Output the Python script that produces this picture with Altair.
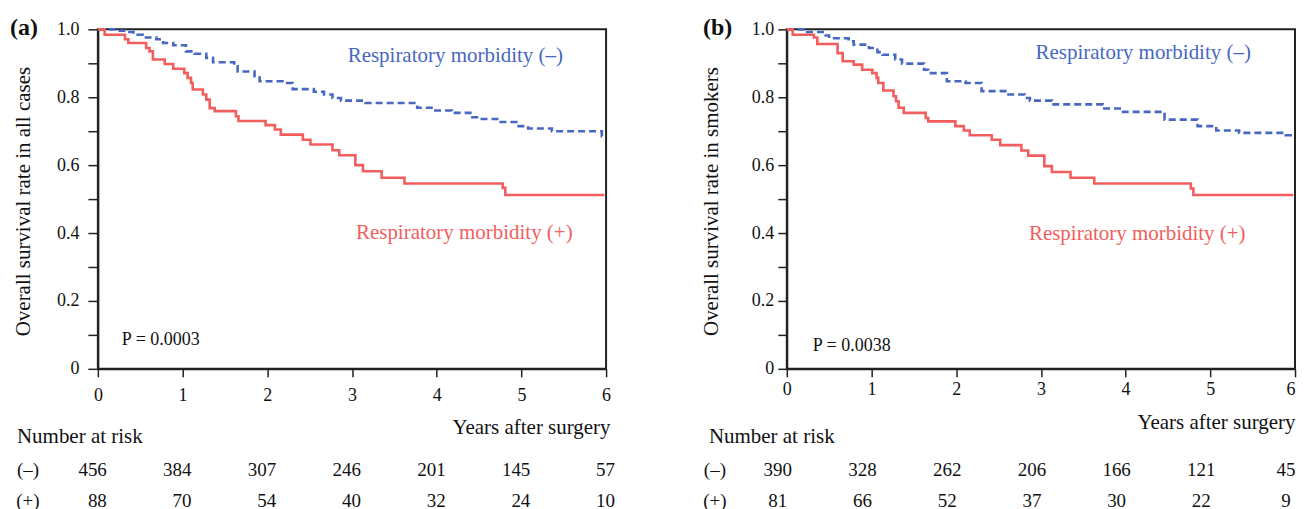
import altair as alt
import pandas as pd

# ---------------- data ----------------
years = [0, 1, 2, 3, 4, 5, 6]
y_ticks = [0.0, 0.1, 0.2, 0.3, 0.4, 0.5, 0.6, 0.7, 0.8, 0.9, 1.0]

# Panel (a): all cases
a_neg_t = [0, 0.24, 0.34, 0.42, 0.53, 0.69, 0.77, 0.89, 1.04, 1.14, 1.28, 1.36, 1.61, 1.65,
           1.85, 1.91, 2.18, 2.30, 2.55, 2.67, 2.77, 2.87, 3.16, 3.77, 3.96, 4.18, 4.42,
           4.51, 4.73, 4.94, 5.08, 5.36, 5.95, 5.98]
a_neg_s = [1.0, 0.996, 0.992, 0.984, 0.976, 0.971, 0.960, 0.953, 0.935, 0.928, 0.916, 0.903,
           0.891, 0.876, 0.862, 0.847, 0.842, 0.824, 0.816, 0.808, 0.798, 0.790, 0.783,
           0.769, 0.761, 0.754, 0.741, 0.736, 0.727, 0.715, 0.708, 0.700, 0.685, 0.685]
a_pos_t = [0, 0.08, 0.32, 0.36, 0.57, 0.61, 0.65, 0.79, 0.89, 1.02, 1.06, 1.10, 1.12, 1.24,
           1.28, 1.32, 1.38, 1.63, 1.66, 1.98, 2.09, 2.16, 2.42, 2.51, 2.77, 2.85, 3.04,
           3.13, 3.35, 3.62, 4.78, 4.81, 5.98]
a_pos_s = [1.0, 0.984, 0.971, 0.960, 0.945, 0.935, 0.911, 0.898, 0.884, 0.871, 0.857, 0.842,
           0.823, 0.808, 0.793, 0.768, 0.759, 0.744, 0.730, 0.718, 0.705, 0.690, 0.675,
           0.661, 0.644, 0.629, 0.600, 0.582, 0.563, 0.546, 0.533, 0.512, 0.512]
a_risk_neg = [456, 384, 307, 246, 201, 145, 57]
a_risk_pos = [88, 70, 54, 40, 32, 24, 10]

# Panel (b): smokers
b_neg_t = [0, 0.24, 0.46, 0.50, 0.73, 0.79, 0.97, 1.07, 1.13, 1.28, 1.36, 1.62, 1.67, 1.89,
           2.11, 2.30, 2.60, 2.81, 2.87, 3.13, 3.73, 3.97, 4.46, 4.85, 5.07, 5.34, 5.89, 5.98]
b_neg_s = [1.0, 0.992, 0.982, 0.974, 0.965, 0.955, 0.945, 0.933, 0.925, 0.911, 0.899, 0.881,
           0.871, 0.847, 0.842, 0.818, 0.808, 0.798, 0.790, 0.779, 0.767, 0.757, 0.734,
           0.715, 0.702, 0.695, 0.688, 0.688]
b_pos_t = [0, 0.07, 0.32, 0.36, 0.60, 0.66, 0.79, 0.89, 1.01, 1.06, 1.08, 1.14, 1.26, 1.29,
           1.32, 1.38, 1.64, 1.67, 1.99, 2.09, 2.16, 2.42, 2.52, 2.77, 2.85, 3.04, 3.13,
           3.35, 3.63, 4.77, 4.80, 5.98]
b_pos_s = [1.0, 0.984, 0.976, 0.957, 0.930, 0.906, 0.896, 0.881, 0.871, 0.857, 0.842, 0.820,
           0.803, 0.788, 0.769, 0.754, 0.739, 0.729, 0.715, 0.702, 0.688, 0.675, 0.659,
           0.643, 0.628, 0.597, 0.580, 0.563, 0.546, 0.531, 0.512, 0.512]
b_risk_neg = [390, 328, 262, 206, 166, 121, 45]
b_risk_pos = [81, 66, 52, 37, 30, 22, 9]

groups = ["neg", "pos"]
BLUE = "#4767c1"
RED = "#f25d5d"
DARK = "#222222"
FONT = "Liberation Serif"
W, H = 509, 340


def panel(label, ytitle, neg_t, neg_s, pos_t, pos_s, risk_neg, risk_pos, pval, c):
    curves = pd.concat([
        pd.DataFrame({"t": neg_t, "s": neg_s, "group": "neg"}),
        pd.DataFrame({"t": pos_t, "s": pos_s, "group": "pos"}),
    ])
    xsc = alt.Scale(domain=[0, 6], nice=False, zero=False)
    ysc = alt.Scale(domain=[0, 1], nice=False)
    xaxis = alt.Axis(values=years, format="d", tickSize=8, tickWidth=1.5, tickColor=DARK,
                     domainColor=DARK, domainWidth=2, labelPadding=c["xlp"],
                     labelAlign=c["xla"],
                     labelFont=FONT, labelFontSize=18, labelColor="#111", grid=False,
                     labelFlush=False, title="Years after surgery", titleFont=FONT,
                     titleFontSize=21, titleFontWeight="normal", titleColor="#111",
                     titleAlign="right", titleBaseline="middle", titleAnchor="end",
                     titleX=c["xtx"], titleY=c["xty"])
    yaxis = alt.Axis(values=y_ticks, tickSize=c["yts"], tickWidth=1.5, tickColor=DARK,
                     domainColor=DARK, domainWidth=2, labelPadding=c["ylp"],
                     labelExpr="datum.value == 0 ? '0' : (round(datum.value*10) % 2 == 0 ? format(datum.value, '.1f') : '')",
                     labelFont=FONT, labelFontSize=18, labelColor="#111", grid=False,
                     title=ytitle, titleFont=FONT, titleFontSize=21,
                     titleFontWeight="normal", titleColor="#111", titleAlign="center",
                     titleBaseline="middle", titleX=c["ytx"], titleY=H / 2 + 2, titleAngle=270)
    lines = alt.Chart(curves).mark_line(interpolate="step-after", strokeWidth=2.6).encode(
        x=alt.X("t:Q", scale=xsc, axis=xaxis),
        y=alt.Y("s:Q", scale=ysc, axis=yaxis),
        color=alt.Color("group:N", scale=alt.Scale(domain=groups, range=[BLUE, RED]), legend=None),
        strokeDash=alt.StrokeDash("group:N", scale=alt.Scale(domain=groups, range=[[7, 4], [1, 0]]),
                                  legend=None),
    )
    risk = pd.DataFrame({"t": years, "neg": risk_neg, "pos": risk_pos})
    rows = []
    for field, ypix in (("neg", 441), ("pos", 472)):
        rows.append(
            alt.Chart(risk).mark_text(font=FONT, fontSize=19, color="#111", baseline="middle",
                                      align=c["ralign"], dx=c["rdx"]).encode(
                x=alt.X("t:Q", scale=xsc, axis=xaxis),
                y=alt.value(ypix),
                text=alt.Text(f"{field}:Q"),
            )
        )

    def txt(s, x, y, size=21, color="#111", align="left", weight="normal"):
        return alt.Chart(pd.DataFrame({"s": [s]})).mark_text(
            font=FONT, fontSize=size, color=color, align=align, baseline="middle",
            fontWeight=weight).encode(text="s:N", x=alt.value(x), y=alt.value(y))

    texts = [
        txt(label, c["lx"], -1, size=24, weight="bold"),
        txt("Respiratory morbidity (\u2013)", c["bx"], c["by"], color=BLUE, align="center"),
        txt("Respiratory morbidity (+)", c["rx"], c["ry"], color=RED, align="center"),
        txt(pval, c["px"], c["py"], size=18),
        txt("Number at risk", c["nx"], 408),
        txt("(\u2013)", c["sx"], 441, size=19, align="center"),
        txt("(+)", c["sx"], 472, size=19, align="center"),
    ]
    return alt.layer(lines, *rows, *texts).properties(width=W, height=H)


pa = panel("(a)", "Overall survival rate in all cases", a_neg_t, a_neg_s, a_pos_t, a_pos_s,
           a_risk_neg, a_risk_pos, "P = 0.0003",
           dict(xlp=10, xla="center", xtx=W + 4, xty=59, yts=10, ylp=9, ytx=-74,
                ralign="right", rdx=9, lx=-88, bx=358, by=27, rx=367, ry=204, px=24,
                py=311, nx=-81, sx=-70))
pb = panel("(b)", "Overall survival rate in smokers", b_neg_t, b_neg_s, b_pos_t, b_pos_s,
           b_risk_neg, b_risk_pos, "P = 0.0038",
           dict(xlp=4,
                xla={"condition": {"test": "datum.value == 6", "value": "right"}, "value": "center"},
                xtx=W, xty=54, yts=9, ylp=4, ytx=-75, ralign="center", rdx=-9, lx=-84,
                bx=357, by=24, rx=351, ry=205, px=26, py=317, nx=-78, sx=-72))

chart = alt.hconcat(pa, pb, spacing=84).properties(
    padding={"left": 1, "top": 7, "right": 0, "bottom": 0}
).configure(background="white").configure_view(stroke=DARK, strokeWidth=2)

chart.save("out.html", embed_options={"renderer": "svg", "actions": False})
